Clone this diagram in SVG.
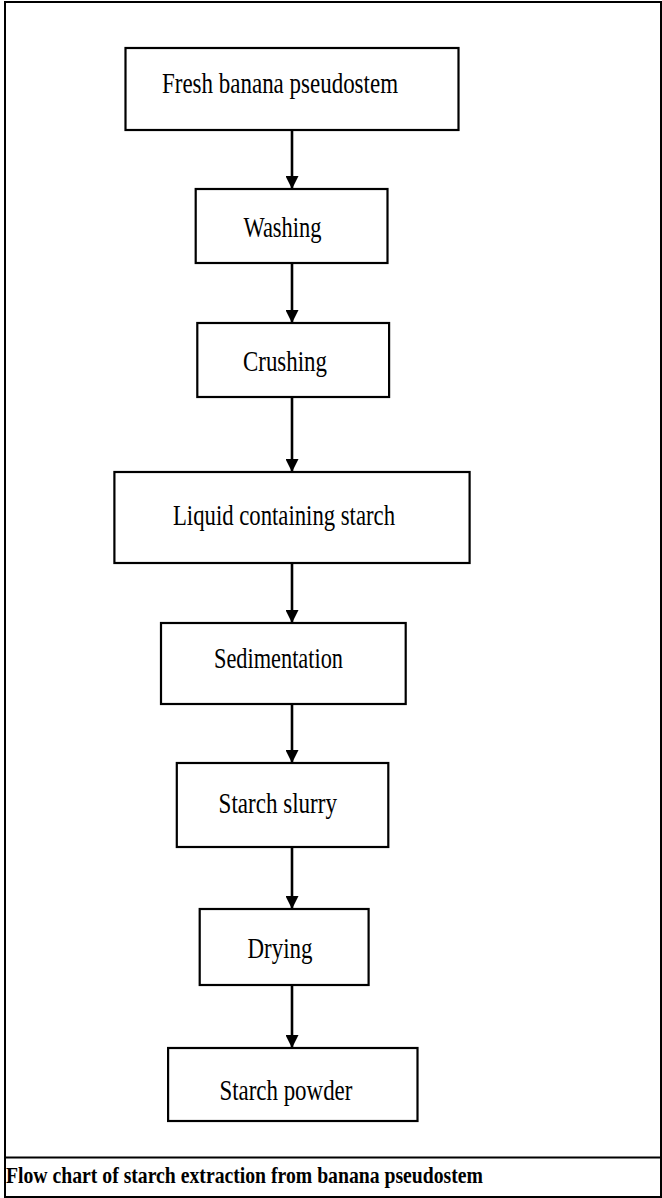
<svg xmlns="http://www.w3.org/2000/svg" width="662" height="1198" viewBox="0 0 662 1198">
<style>
.box{fill:#fff;stroke:#000;stroke-width:2.2}
.lbl{font-family:"Liberation Serif","Times New Roman",serif;font-size:29px;fill:#000}
.cap{font-family:"Liberation Serif","Times New Roman",serif;font-size:24px;font-weight:bold;fill:#000}
.edge{stroke:#000;stroke-width:2.6;fill:none}
.frame{fill:none;stroke:#000;stroke-width:2}
</style>
<defs>
<marker id="ah" markerUnits="userSpaceOnUse" markerWidth="13" markerHeight="13" refX="13" refY="6.5" orient="auto" viewBox="0 0 13 13">
<path d="M0,0 L13,6.5 L0,13 Z" fill="#000"/>
</marker>
</defs>
<rect class="frame" x="5" y="2" width="656" height="1195"/>
<line class="frame" x1="5" y1="1157.5" x2="661" y2="1157.5"/>
<g id="connectors">
<line class="edge" x1="292" y1="130" x2="292" y2="189" marker-end="url(#ah)"/>
<line class="edge" x1="292" y1="263" x2="292" y2="323" marker-end="url(#ah)"/>
<line class="edge" x1="292" y1="397" x2="292" y2="472" marker-end="url(#ah)"/>
<line class="edge" x1="292" y1="563" x2="292" y2="623" marker-end="url(#ah)"/>
<line class="edge" x1="292" y1="704" x2="292" y2="763" marker-end="url(#ah)"/>
<line class="edge" x1="292" y1="847" x2="292" y2="909" marker-end="url(#ah)"/>
<line class="edge" x1="292" y1="985" x2="292" y2="1048" marker-end="url(#ah)"/>
</g>
<g id="n1"><rect class="box" x="125.5" y="48" width="333" height="82"/><text class="lbl" x="162" y="93" textLength="236" lengthAdjust="spacingAndGlyphs">Fresh banana pseudostem</text></g>
<g id="n2"><rect class="box" x="195.7" y="189" width="191.8" height="74"/><text class="lbl" x="243.5" y="237" textLength="78" lengthAdjust="spacingAndGlyphs">Washing</text></g>
<g id="n3"><rect class="box" x="197.3" y="323" width="191.8" height="74"/><text class="lbl" x="243" y="371" textLength="84" lengthAdjust="spacingAndGlyphs">Crushing</text></g>
<g id="n4"><rect class="box" x="114.4" y="472" width="355.2" height="91"/><text class="lbl" x="173" y="525" textLength="222" lengthAdjust="spacingAndGlyphs">Liquid containing starch</text></g>
<g id="n5"><rect class="box" x="161" y="623" width="244.7" height="81"/><text class="lbl" x="214" y="668" textLength="129" lengthAdjust="spacingAndGlyphs">Sedimentation</text></g>
<g id="n6"><rect class="box" x="176.8" y="763" width="211.5" height="84"/><text class="lbl" x="218.6" y="813" textLength="118.4" lengthAdjust="spacingAndGlyphs">Starch slurry</text></g>
<g id="n7"><rect class="box" x="199.7" y="909" width="168.9" height="76"/><text class="lbl" x="247.5" y="958" textLength="65" lengthAdjust="spacingAndGlyphs">Drying</text></g>
<g id="n8"><rect class="box" x="168.1" y="1048" width="249.4" height="73"/><text class="lbl" x="219.4" y="1100" textLength="133" lengthAdjust="spacingAndGlyphs">Starch powder</text></g>
<text class="cap" x="6" y="1183" textLength="477" lengthAdjust="spacingAndGlyphs">Flow chart of starch extraction from banana pseudostem</text>
</svg>
